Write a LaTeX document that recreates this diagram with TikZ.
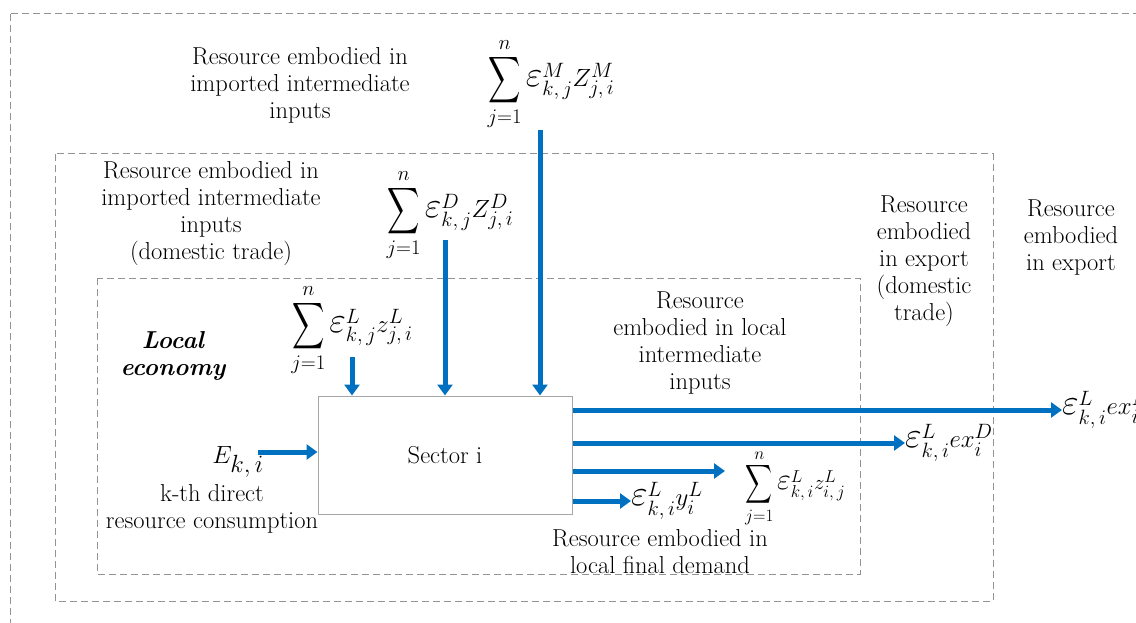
\documentclass[tikz,border=0pt]{standalone}
\usepackage{amsmath}
\usetikzlibrary{positioning,arrows.meta}
\DeclareMathSizes{26}{26}{20}{15}
\DeclareMathSizes{22}{22}{17}{13}
\DeclareMathSizes{44}{44}{26}{19}
\newcommand{\veps}{\mathord{\scalebox{1.45}{$\varepsilon$}}}
\newcommand{\bsum}{\mathop{\vcenter{\hbox{\scalebox{0.9}[1.3]{$\displaystyle\sum$}}}}\limits}
\definecolor{flowblue}{RGB}{0,112,192}
\tikzset{flow/.style={line width=5pt,draw=flowblue,-{Triangle[length=11pt,width=15pt]}}}
\tikzset{zone/.style={draw=gray!85,line width=1pt,dash pattern=on 7pt off 4pt}}
\tikzset{txt/.style={align=center,inner sep=1pt,font=\fontsize{24.5}{27}\selectfont}}
\tikzset{eq/.style={inner sep=1pt,font=\fontsize{26}{30}\selectfont}}

\begin{document}
\begin{tikzpicture}[x=1pt,y=-1pt]
  \useasboundingbox (0,0) rectangle (1136,623);
  % nested economies
  \draw[zone] (10,14) rectangle (1160,650);
  \draw[zone] (55,154) rectangle (993,601);
  \draw[zone] (97,278) rectangle (860,574);

  \node[draw=gray!70,line width=1pt,minimum width=254pt,minimum height=118pt,txt] (sector) at (445,455) {Sector i};

  % imported inputs (abroad)
  \node[txt] (impMtxt) at (300,85) {Resource embodied in\\imported intermediate\\inputs};
  \node[eq] (sumM) at (551,84) {$\bsum_{j=1}^{n}\veps^{M}_{k,\,j}Z^{M}_{j,\,i}$};
  \coordinate (mtop) at (540,130);
  \draw[flow] (mtop) -- (mtop |- sector.north);

  % imported inputs (domestic trade)
  \node[txt] (impDtxt) at (211,214) {Resource embodied in\\imported intermediate\\inputs\\(domestic trade)};
  \node[eq] (sumD) at (450,215) {$\bsum_{j=1}^{n}\veps^{D}_{k,\,j}Z^{D}_{j,\,i}$};
  \coordinate (dtop) at (445,240);
  \draw[flow] (dtop) -- (dtop |- sector.north);

  % local inputs
  \node[txt,font=\fontsize{24.5}{27}\selectfont\bfseries\itshape] (loctxt) at (173,356) {Local\\economy};
  \node[eq] (sumL) at (352,330) {$\bsum_{j=1}^{n}\veps^{L}_{k,\,j}z^{L}_{j,\,i}$};
  \coordinate (ltop) at (352,357);
  \draw[flow] (ltop) -- (ltop |- sector.north);

  % direct consumption
  \node[eq,font=\fontsize{44}{48}\selectfont] (eki) at (238,462) {$E_{k,\,i}$};
  \node[txt] (ektxt) at (212,509) {k-th direct\\resource consumption};
  \coordinate (estart) at (258,452);
  \draw[flow] (estart) -- (estart -| sector.west);

  % outputs
  \node[txt] (locIntxt) at (700,343) {Resource\\embodied in local\\intermediate\\inputs};
  \node[txt] (expDtxt) at (924,261) {Resource\\embodied\\in export\\(domestic\\trade)};
  \node[txt] (expMtxt) at (1071,238) {Resource\\embodied\\in export};
  \node[txt] (finaltxt) at (660,552) {Resource embodied in\\local final demand};

  \node[eq,anchor=west,inner sep=0pt] (exM) at (1062,410) {$\veps^{L}_{k,\,i}ex^{M}_{i}$};
  \node[eq,anchor=west,inner sep=0pt] (exD) at (905,443) {$\veps^{L}_{k,\,i}ex^{D}_{i}$};
  \node[eq,font=\fontsize{22}{26}\selectfont,anchor=west,inner xsep=20pt,inner ysep=0pt] (sumO) at (725,488) {$\bsum_{j=1}^{n}\veps^{L}_{k,\,i}z^{L}_{i,\,j}$};
  \node[eq,anchor=west,inner sep=0pt] (yL) at (631,501) {$\veps^{L}_{k,\,i}y^{L}_{i}$};

  \draw[flow] (sector.east |- exM.west) -- (exM.west);
  \draw[flow] (sector.east |- exD.west) -- (exD.west);
  \draw[flow] (sector.east |- 0,471) -- (sumO.west |- 0,471);
  \draw[flow] (sector.east |- yL.west) -- (yL.west);
\end{tikzpicture}
\end{document}
